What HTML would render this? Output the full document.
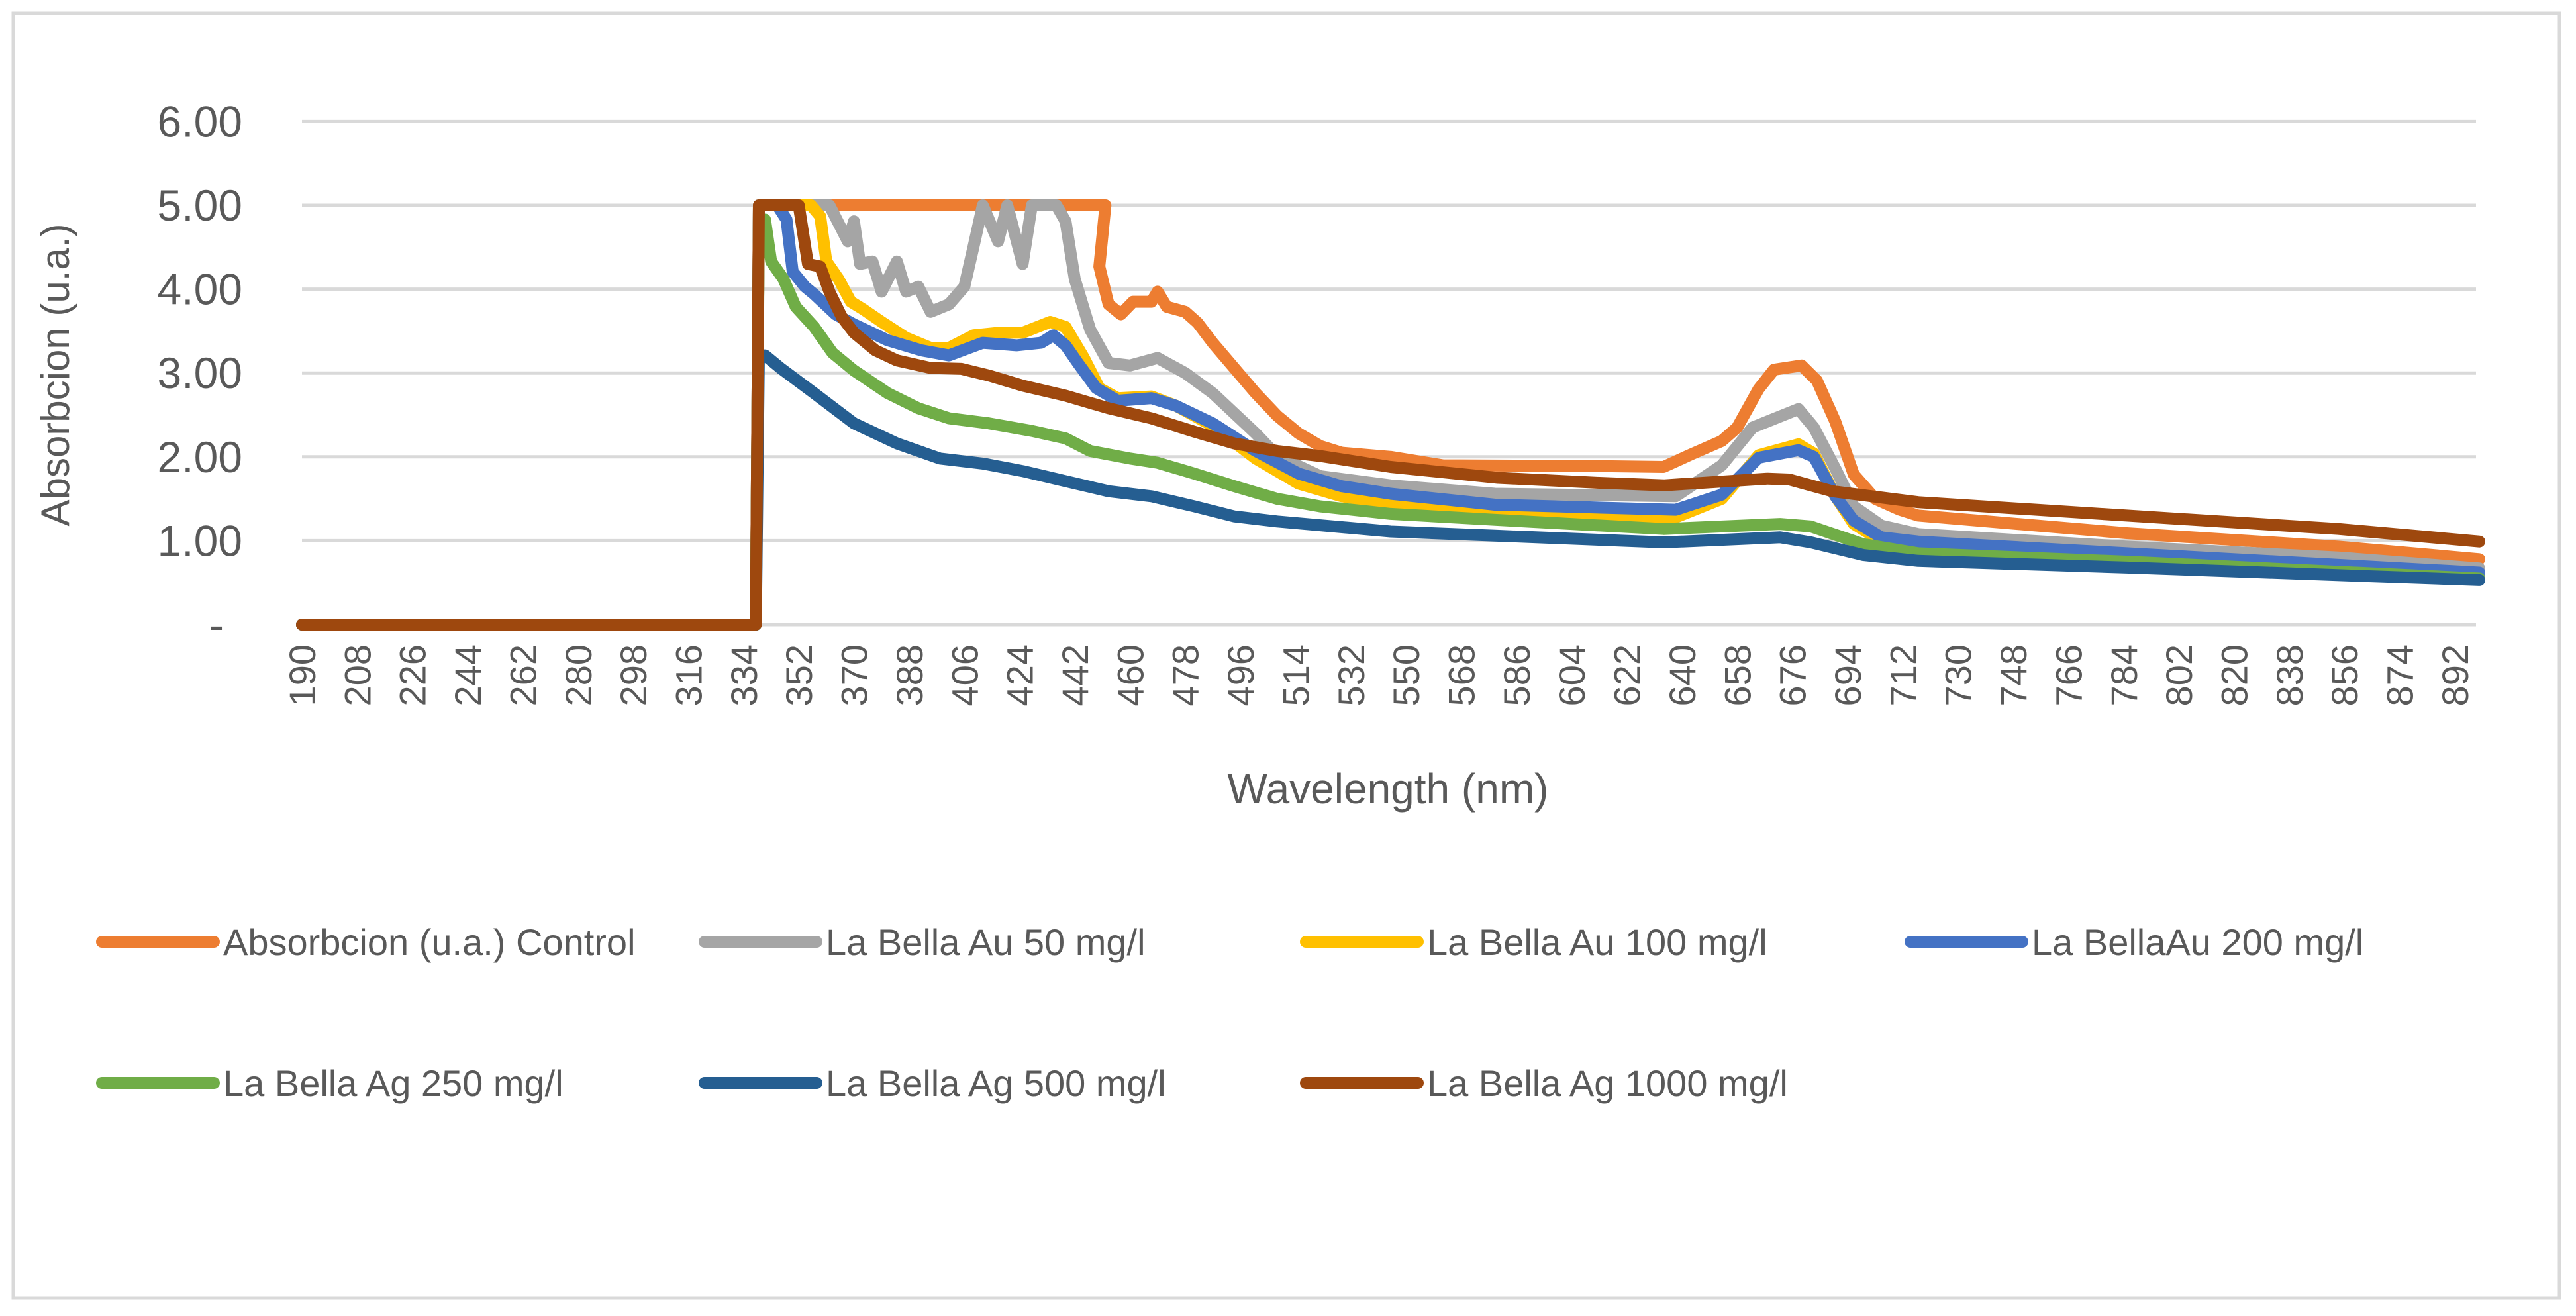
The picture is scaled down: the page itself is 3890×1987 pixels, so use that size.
<!DOCTYPE html>
<html><head><meta charset="utf-8"><style>
html,body{margin:0;padding:0;background:#fff;}
svg{display:block;font-family:"Liberation Sans",sans-serif;}
</style></head><body>
<svg id="chart" width="3890" height="1987" viewBox="0 0 3890 1987" xmlns="http://www.w3.org/2000/svg">
<rect x="20" y="20" width="3845" height="1940" fill="#fff" stroke="#d9d9d9" stroke-width="5"/>
<g id="grid"></g><g id="yticks"></g><g id="xticks"></g><g id="series"></g><g id="legend"></g>
<text transform="translate(104,566) rotate(-90)" text-anchor="middle" font-size="60" fill="#595959">Absorbcion (u.a.)</text>
<text x="2096" y="1213" text-anchor="middle" font-size="64" fill="#595959">Wavelength (nm)</text>
</svg>
<script>
const yTickValues = [0,1,2,3,4,5,6];
const yTickLabels = ["-","1.00","2.00","3.00","4.00","5.00","6.00"];
const xTickStart = 190, xTickStep = 18, xTickCount = 40;
const seriesNames = ["Absorbcion (u.a.) Control","La Bella Au 50 mg/l","La Bella Au 100 mg/l","La BellaAu 200 mg/l","La Bella Ag 250 mg/l","La Bella Ag 500 mg/l","La Bella Ag 1000 mg/l"];
const seriesColors = ["#ed7d31","#a5a5a5","#ffc000","#4472c4","#70ad47","#255e91","#9e480e"];
const controlX = [190,338,339,452,450,453,457,461,467,469,472,478,482,487,494,501,508,515,522,529,545,562,613,634,643,653,658,665,670,679,684,690,696,703,711,717,785,854,900];
const controlY = [0,0,5,5,4.27,3.82,3.70,3.85,3.85,3.97,3.79,3.73,3.60,3.36,3.06,2.76,2.49,2.28,2.13,2.05,2.00,1.90,1.89,1.88,2.03,2.19,2.35,2.81,3.04,3.09,2.91,2.42,1.79,1.50,1.37,1.30,1.09,0.93,0.78];
const au50X = [190,338,339,362,368,370,372,376,379,384,387,391,395,401,406,409,412,417,420,425,428,436,439,442,447,453,460,469,478,487,501,508,522,545,579,638,653,663,678,683,690,696,705,717,785,854,900];
const au50Y = [0,0,5,5,4.57,4.81,4.30,4.33,3.97,4.33,3.97,4.03,3.73,3.82,4.03,4.51,5,4.57,5,4.30,5,5,4.81,4.12,3.52,3.12,3.09,3.18,3.00,2.76,2.28,2.01,1.77,1.66,1.56,1.53,1.90,2.35,2.57,2.35,1.86,1.41,1.18,1.08,0.93,0.80,0.67];
const au100X = [190,338,339,356,359,361,365,369,373,379,387,395,401,409,417,425,434,439,445,450,456,467,475,487,501,515,529,545,579,638,653,665,678,683,690,696,705,717,785,900];
const au100Y = [0,0,5,5,4.87,4.33,4.12,3.85,3.76,3.61,3.42,3.30,3.30,3.45,3.48,3.48,3.61,3.55,3.18,2.82,2.70,2.72,2.61,2.37,1.98,1.68,1.53,1.44,1.32,1.28,1.50,2.02,2.15,2.04,1.53,1.20,1.00,0.96,0.83,0.61];
const au200X = [190,338,339,345,348,350,354,357,364,370,381,392,401,412,423,431,435,439,443,449,456,467,475,487,501,515,529,545,579,638,653,665,678,683,690,696,705,717,785,900];
const au200Y = [0,0,5,5,4.83,4.21,4.03,3.94,3.70,3.58,3.39,3.27,3.21,3.36,3.33,3.36,3.45,3.33,3.12,2.82,2.67,2.70,2.61,2.40,2.07,1.80,1.65,1.56,1.43,1.37,1.55,1.99,2.08,2.00,1.53,1.24,1.04,0.99,0.85,0.62];
const ag250X = [190,338,339,341,343,347,351,357,363,370,381,391,401,414,428,439,447,460,469,481,494,508,522,545,579,634,672,682,699,717,785,900];
const ag250Y = [0,0,4.83,4.83,4.33,4.12,3.79,3.55,3.24,3.03,2.76,2.58,2.46,2.40,2.31,2.22,2.07,1.98,1.93,1.80,1.65,1.50,1.41,1.32,1.25,1.14,1.20,1.17,0.96,0.85,0.75,0.55];
const ag500X = [190,338,339,341,346,357,370,384,398,412,425,439,453,467,481,494,508,545,579,634,672,682,699,717,785,900];
const ag500Y = [0,0,3.21,3.21,3.06,2.76,2.40,2.16,1.98,1.92,1.83,1.71,1.59,1.53,1.41,1.29,1.23,1.11,1.06,0.98,1.04,0.98,0.83,0.76,0.68,0.53];
const ag1000X = [190,338,339,352,355,359,362,366,370,377,384,395,405,414,425,439,453,467,481,494,508,522,545,580,613,634,668,675,689,717,785,854,900];
const ag1000Y = [0,0,5,5,4.30,4.27,3.97,3.67,3.48,3.27,3.15,3.06,3.05,2.97,2.85,2.73,2.58,2.46,2.30,2.16,2.07,2.01,1.88,1.75,1.69,1.66,1.74,1.73,1.59,1.46,1.30,1.14,0.99];

const NS="http://www.w3.org/2000/svg";
const X0=456, PX_PER_NM=4.631, Y0=943, PX_PER_UNIT=126.6, XR=3739;
function xScale(w){return X0+(w-190)*PX_PER_NM;}
function yScale(v){return Y0-v*PX_PER_UNIT;}
function mk(tag,parent){const e=document.createElementNS(NS,tag);parent.appendChild(e);return e;}
const grid=document.getElementById('grid'), yt=document.getElementById('yticks'), xt=document.getElementById('xticks');
yTickValues.forEach((v,i)=>{
  const l=mk('line',grid);
  
  
  l.setAttribute('x1',X0);l.setAttribute('x2',XR);l.setAttribute('y1',yScale(v));l.setAttribute('y2',yScale(v));
  l.setAttribute('stroke','#d9d9d9');l.setAttribute('stroke-width','5');
  const t=mk('text',yt);
  
  
  t.setAttribute('x',v===0?338:366);t.setAttribute('y',yScale(v)+23);
  t.setAttribute('text-anchor','end');t.setAttribute('font-size','66');t.setAttribute('fill','#595959');
  t.textContent=yTickLabels[i];
});
for(let i=0;i<xTickCount;i++){
  const w=xTickStart+i*xTickStep;
  const t=mk('text',xt);
  
  
  const x=xScale(w)+20;
  t.setAttribute('transform','translate('+x+',973) rotate(-90)');
  t.setAttribute('text-anchor','end');t.setAttribute('font-size','56');t.setAttribute('fill','#595959');
  t.textContent=String(w);
}
const allX=[controlX,au50X,au100X,au200X,ag250X,ag500X,ag1000X];
const allY=[controlY,au50Y,au100Y,au200Y,ag250Y,ag500Y,ag1000Y];
const sg=document.getElementById('series');
allX.forEach((xs,si)=>{
  const ys=allY[si];
  const p=mk('polyline',sg);
  
  
  p.setAttribute('points',xs.map((w,i)=>xScale(w).toFixed(1)+','+yScale(ys[i]).toFixed(1)).join(' '));
  p.setAttribute('fill','none');p.setAttribute('stroke',seriesColors[si]);
  p.setAttribute('stroke-width','18');p.setAttribute('stroke-linejoin','round');p.setAttribute('stroke-linecap','round');
});
const lg=document.getElementById('legend');
const lgPos=[[154,1422],[1064,1422],[1972,1422],[2885,1422],[154,1635],[1064,1635],[1972,1635]];
seriesNames.forEach((n,i)=>{
  const [x,y]=lgPos[i];
  const g=mk('g',lg);
  
  
  const l=mk('line',g);
  
  
  l.setAttribute('x1',x);l.setAttribute('x2',x+169);l.setAttribute('y1',y);l.setAttribute('y2',y);
  l.setAttribute('stroke',seriesColors[i]);l.setAttribute('stroke-width','18');l.setAttribute('stroke-linecap','round');
  const t=mk('text',g);
  
  
  t.setAttribute('x',x+183);t.setAttribute('y',y+20);t.setAttribute('font-size','56');t.setAttribute('fill','#595959');
  t.textContent=n;
});
</script>
</body></html>
